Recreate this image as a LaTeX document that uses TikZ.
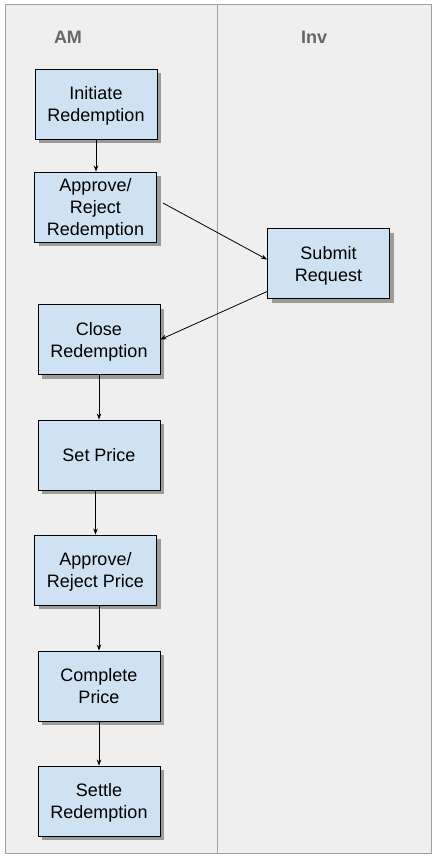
\documentclass[tikz,border=0pt]{standalone}
\usepackage{fontspec}
\setmainfont{Liberation Sans}
\usetikzlibrary{shadows,arrows.meta}
\definecolor{boxblue}{HTML}{CFE2F3}
\definecolor{lanebg}{HTML}{EFEFEF}
\definecolor{laneline}{HTML}{A0A0A0}
\definecolor{headgray}{HTML}{666666}
\tikzset{
  stepbox/.style={draw=black, line width=0.9pt, fill=boxblue, minimum width=122pt, minimum height=70pt,
    align=center, font=\fontsize{18pt}{22pt}\selectfont, inner sep=0pt, text depth=0pt,
    drop shadow={shadow xshift=4pt, shadow yshift=-4pt, fill=black, opacity=0.35}},
  header/.style={font=\fontsize{18pt}{20pt}\selectfont\bfseries, text=headgray},
  conn/.style={draw=black, line width=0.8pt, -{Stealth[length=6pt,width=4.5pt]}}
}
\begin{document}
\begin{tikzpicture}[x=1pt,y=-1pt]
\useasboundingbox (0,0) rectangle (433,859);
\fill[white] (0,0) rectangle (433,859);
\fill[lanebg] (5,5) rectangle (431,853);
\draw[laneline, line width=1pt] (5,5) rectangle (431,853);
\draw[laneline, line width=1pt] (217,5) -- (217,853);
\node[header] (hAM) at (68,37) {AM};
\node[header] (hInv) at (314,37) {Inv};
\node[stepbox] (init) at (96,104) {Initiate\\Redemption};
\node[stepbox] (apprR) at (95.5,207) {Approve/\\Reject\\Redemption};
\node[stepbox] (submit) at (328.5,263.5) {Submit\\Request};
\node[stepbox] (close) at (99,339.5) {Close\\Redemption};
\node[stepbox] (setp) at (99,455) {Set Price};
\node[stepbox] (apprP) at (95.5,570) {Approve/\\Reject Price};
\node[stepbox] (compl) at (99,686) {Complete\\Price};
\node[stepbox] (settle) at (99,801) {Settle\\Redemption};
\draw[conn] (init.south) -- (init.south |- apprR.north);
\draw[conn] ([xshift=6pt,yshift=4pt]apprR.east) -- ([yshift=4pt]submit.west);
\draw[conn] ([yshift=-28pt]submit.west) -- (close.east);
\draw[conn] (close.south) -- (close.south |- setp.north);
\draw[conn] (setp.south -| apprP.north) -- (apprP.north);
\draw[conn] (apprP.south -| compl.north) -- (compl.north);
\draw[conn] (compl.south) -- (settle.north);
\end{tikzpicture}
\end{document}
